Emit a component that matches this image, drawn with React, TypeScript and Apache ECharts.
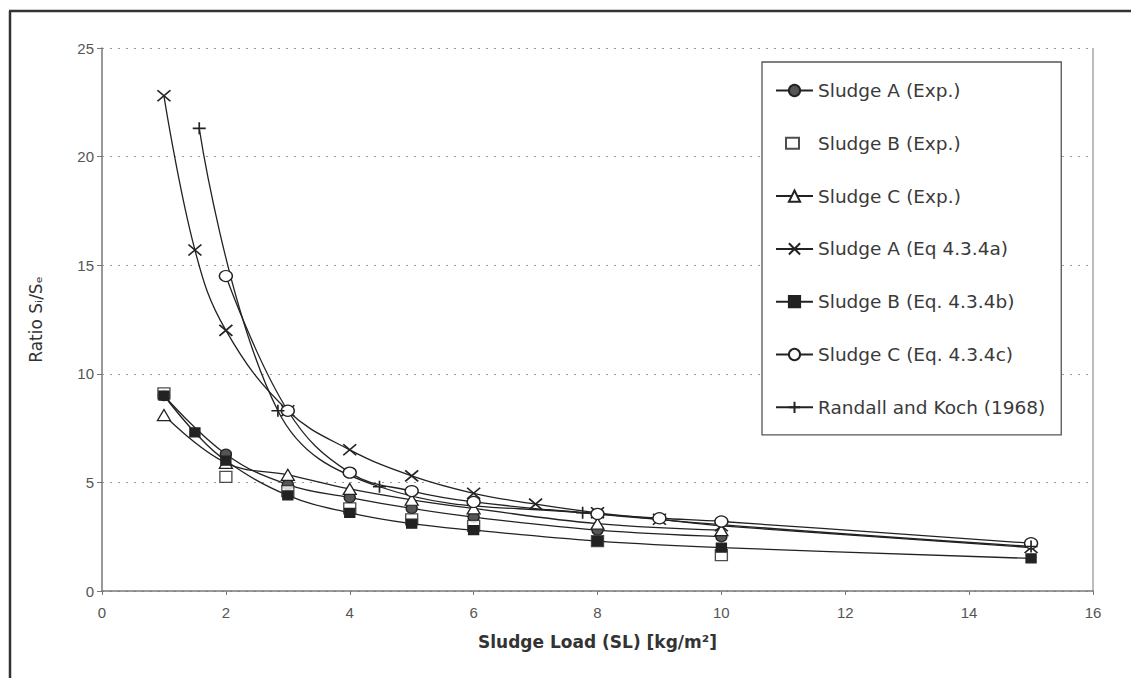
import React, { useEffect, useRef } from "react";
import * as echarts from "echarts";

// ---- Data ----
const xTicks = [0, 2, 4, 6, 8, 10, 12, 14, 16];
const yTicks = [0, 5, 10, 15, 20, 25];

const sludgeAExpX = [1, 2, 3, 4, 5, 6, 8, 10];
const sludgeAExpY = [9.0, 6.3, 4.9, 4.3, 3.8, 3.4, 2.8, 2.5];

const sludgeBExpX = [1, 2, 3, 4, 5, 6, 8, 10];
const sludgeBExpY = [9.1, 5.25, 4.6, 3.8, 3.3, 3.0, 2.3, 1.65];

const sludgeCExpX = [1, 2, 3, 4, 5, 6, 8, 10];
const sludgeCExpY = [8.1, 5.9, 5.35, 4.7, 4.2, 3.8, 3.1, 2.8];

const sludgeAEqX = [1, 1.5, 2, 3, 4, 5, 6, 7, 8, 9, 10, 15];
const sludgeAEqY = [22.8, 15.7, 12.0, 8.3, 6.5, 5.3, 4.5, 4.0, 3.6, 3.3, 3.0, 2.0];

const sludgeBEqX = [1, 1.5, 2, 3, 4, 5, 6, 8, 10, 15];
const sludgeBEqY = [9.0, 7.3, 6.0, 4.4, 3.6, 3.1, 2.8, 2.3, 2.0, 1.5];

const sludgeCEqX = [2, 3, 4, 5, 6, 8, 9, 10, 15];
const sludgeCEqY = [14.5, 8.3, 5.45, 4.6, 4.1, 3.55, 3.35, 3.2, 2.2];

const randallX = [1.57, 2.84, 4.48, 7.76, 15];
const randallY = [21.3, 8.3, 4.8, 3.6, 2.05];

const seriesNames = [
  "Sludge A (Exp.)",
  "Sludge B (Exp.)",
  "Sludge C (Exp.)",
  "Sludge A (Eq 4.3.4a)",
  "Sludge B (Eq. 4.3.4b)",
  "Sludge C (Eq. 4.3.4c)",
  "Randall and Koch (1968)",
];

const zip = (xs: number[], ys: number[]) => xs.map((x, i) => [x, ys[i]]);

const INK = "#222";
const LINE_W = 1.3;

const xPath = "path://M0,0L10,10M10,0L0,10";
const plusPath = "path://M5,0L5,10M0,5L10,5";
// legend icon for the marker-only series: a small square left of centre in the icon box
const squareLegendIcon = "path://M0,0M37,14M10,1.5L23,1.5L23,12.5L10,12.5Z";

function lineSeries(name: string, data: number[][], symbol: string, size: number[] | number, fill: string, extra: any = {}) {
  return {
    name,
    type: "line",
    data,
    smooth: 0.4,
    symbol,
    symbolSize: size,
    showSymbol: true,
    lineStyle: { color: INK, width: LINE_W },
    itemStyle: { color: fill, borderColor: INK, borderWidth: 1.3 },
    emphasis: { disabled: true },
    ...extra,
  };
}

const option: any = {
  animation: false,
  backgroundColor: "#fff",
  grid: { left: 102, right: 38, top: 48, bottom: 87, containLabel: false },
  xAxis: {
    type: "value",
    min: xTicks[0],
    max: xTicks[xTicks.length - 1],
    interval: 2,
    name: "Sludge Load (SL) [kg/m²]",
    nameLocation: "middle",
    nameGap: 42,
    nameTextStyle: { fontFamily: "DejaVu Sans", fontWeight: "bold", fontSize: 17, color: "#333" },
    axisLine: { show: true, onZero: false, lineStyle: { color: "#777", width: 1.5 } },
    axisTick: { show: true, length: 4, lineStyle: { color: "#777" } },
    axisLabel: { margin: 14, fontFamily: "Liberation Sans", fontSize: 15, color: "#555" },
    splitLine: { show: false },
  },
  yAxis: {
    type: "value",
    min: yTicks[0],
    max: yTicks[yTicks.length - 1],
    interval: 5,
    name: "Ratio Sᵢ/Sₑ",
    nameLocation: "middle",
    nameGap: 58,
    nameRotate: 90,
    nameTextStyle: { fontFamily: "DejaVu Sans", fontSize: 17, color: "#333" },
    axisLine: { show: true, lineStyle: { color: "#777", width: 1.5 } },
    axisTick: { show: true, length: 5, lineStyle: { color: "#777" } },
    axisLabel: { margin: 8, fontFamily: "Liberation Sans", fontSize: 15, color: "#555" },
    splitLine: { show: true, lineStyle: { color: "#999", type: [2, 6], width: 1.2 } },
  },
  legend: {
    orient: "vertical",
    left: 762,
    top: 62,
    padding: [19, 16, 18, 13],
    itemGap: 33.8,
    itemWidth: 37,
    itemHeight: 14,
    borderColor: "#555",
    borderWidth: 1.3,
    backgroundColor: "#fff",
    data: seriesNames.map((n, i) =>
      i === 1 ? { name: n, icon: squareLegendIcon } : { name: n }
    ),
    textStyle: { fontFamily: "DejaVu Sans", fontSize: 18.5, color: "#3a3a3a" },
    selectedMode: false,
  },
  graphic: [
    { type: "line", shape: { x1: 9, y1: 11, x2: 1131, y2: 11 }, style: { stroke: "#333", lineWidth: 2.5 } },
    { type: "line", shape: { x1: 10, y1: 11, x2: 10, y2: 678 }, style: { stroke: "#333", lineWidth: 2.5 } },
    { type: "line", shape: { x1: 1093, y1: 48, x2: 1093, y2: 591 }, style: { stroke: "#999", lineWidth: 1.3 } },
  ],
  series: [
    lineSeries(seriesNames[0], zip(sludgeAExpX, sludgeAExpY), "circle", [11, 10], "#555"),
    {
      name: seriesNames[1],
      type: "scatter",
      data: zip(sludgeBExpX, sludgeBExpY),
      symbol: "rect",
      symbolSize: [12, 11],
      itemStyle: { color: "#fff", borderColor: INK, borderWidth: 1.3 },
      emphasis: { disabled: true },
      z: 3,
    },
    lineSeries(seriesNames[2], zip(sludgeCExpX, sludgeCExpY), "triangle", [13, 11], "#fff"),
    lineSeries(seriesNames[3], zip(sludgeAEqX, sludgeAEqY), xPath, [13, 11], "none", {
      itemStyle: { color: INK, borderColor: INK, borderWidth: 1.6 },
    }),
    lineSeries(seriesNames[4], zip(sludgeBEqX, sludgeBEqY), "rect", [10, 9], INK),
    lineSeries(seriesNames[5], zip(sludgeCEqX, sludgeCEqY), "circle", [13, 11], "#fff"),
    lineSeries(seriesNames[6], zip(randallX, randallY), plusPath, [13, 12], "none", {
      itemStyle: { color: INK, borderColor: INK, borderWidth: 1.6 },
    }),
  ],
};

export default function App() {
  const ref = useRef<HTMLDivElement>(null);
  useEffect(() => {
    if (!ref.current) return;
    const chart = echarts.init(ref.current, null, { renderer: "svg" });
    chart.setOption(option);
    return () => chart.dispose();
  }, []);
  return (
    <div
      ref={ref}
      style={{ position: "fixed", left: 0, top: 0, width: 1131, height: 678, background: "#fff" }}
    />
  );
}
